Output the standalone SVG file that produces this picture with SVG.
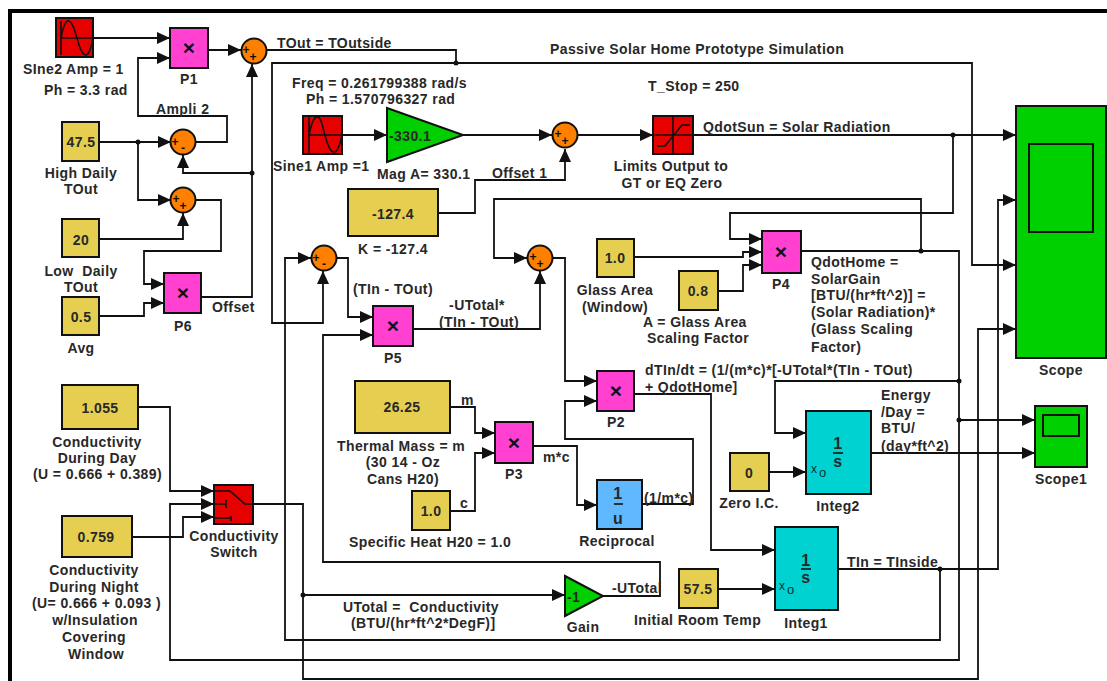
<svg xmlns="http://www.w3.org/2000/svg" width="1107" height="681" viewBox="0 0 1107 681">
<style>
text{font-family:"Liberation Sans",Arial,sans-serif;font-weight:bold;font-size:14px;fill:#282828;letter-spacing:.4px;white-space:pre}
.m{text-anchor:middle}
.b{stroke:#111;stroke-width:2}
.red{fill:#e60000}.mag{fill:#ff40d0}.yel{fill:#e6cf50}.org{fill:#ff8000}.grn{fill:#00d000}.cyn{fill:#00d2d2}.blu{fill:#60b8ff}
.i{fill:none;stroke:#111;stroke-width:1.6}
.s{font-size:12px;letter-spacing:0;fill:#111}
.big{font-size:16px}
.t{font-size:21px;letter-spacing:0;fill:#111}
.x{font-weight:normal;font-size:12px;letter-spacing:0;fill:#103030}
.o{font-size:13px}
#connectors path{fill:none;stroke:#111;stroke-width:1.8}
.a{marker-end:url(#arr)}
.d{fill:#111}
</style>
<defs>
<marker id="arr" markerUnits="userSpaceOnUse" markerWidth="13" markerHeight="12" refX="13" refY="6" orient="auto"><path d="M0,0 L13,6 L0,12 z" fill="#111"/></marker>
</defs>
<rect width="1107" height="681" fill="#fff"/>
<path d="M10,681 V11 H1107" fill="none" stroke="#000" stroke-width="4"/>
<g id="connectors">
<path class="a" d="M93,38 H170"/>
<path class="a" d="M196,142 H227 V116 H138 V58 H170"/>
<path class="a" d="M208,50 H241"/>
<path d="M267,50 H456 V63"/>
<path class="a" d="M456,63 H272 V323 H323 V271"/>
<path class="a" d="M456,63 H972 V265 H1016"/>
<path class="a" d="M201,297 H252 V64"/>
<path class="a" d="M252,173 H183 V155"/>
<path class="a" d="M99,142 H171"/>
<path class="a" d="M138,142 V200 H171"/>
<path class="a" d="M99,239 H183 V213"/>
<path class="a" d="M196,200 H221 V251 H144 V284 H164"/>
<path class="a" d="M99,316 H144 V303 H164"/>
<path class="a" d="M342,135 H387"/>
<path class="a" d="M463,135 H552"/>
<path class="a" d="M578,135 H653"/>
<path class="a" d="M693,135 H1016"/>
<path class="a" d="M953,135 V213 H730 V239 H762"/>
<path class="a" d="M634,257 H743 V252 H762"/>
<path class="a" d="M718,291 H743 V265 H762"/>
<path class="a" d="M801,251 H959 V660 H170 V504 H214"/>
<path class="a" d="M921,251 V199 H494 V258 H527"/>
<path class="a" d="M959,381 H775 V433 H806"/>
<path class="a" d="M959,420 H1035"/>
<path class="a" d="M871,453 H1035"/>
<path class="a" d="M838,569 H998 V200 H1016"/>
<path class="a" d="M940,569 V640 H285 V258 H311"/>
<path class="a" d="M253,504 H303 V679 H978 V329 H1016"/>
<path class="a" d="M303,595 H565"/>
<path class="a" d="M337,258 H348 V317 H373"/>
<path class="a" d="M603,596 H660 V562 H323 V335 H373"/>
<path class="a" d="M413,329 H540 V271"/>
<path class="a" d="M553,258 H565 V381 H597"/>
<path class="a" d="M642,504 H693 V439 H565 V401 H597"/>
<path class="a" d="M634,394 H711 V550 H775"/>
<path class="a" d="M718,589 H775"/>
<path class="a" d="M769,472 H806"/>
<path class="a" d="M450,407 H475 V433 H495"/>
<path class="a" d="M450,511 H475 V453 H495"/>
<path class="a" d="M533,446 H577 V505 H597"/>
<path class="a" d="M438,213 H475 V180 H565 V149"/>
<path class="a" d="M138,407 H170 V491 H214"/>
<path class="a" d="M132,537 H183 V517 H214"/>
<circle class="d" cx="456" cy="63" r="2.5"/><circle class="d" cx="252" cy="173" r="2.5"/><circle class="d" cx="138" cy="142" r="2.5"/><circle class="d" cx="953" cy="135" r="2.5"/><circle class="d" cx="921" cy="251" r="2.5"/><circle class="d" cx="959" cy="381" r="2.5"/><circle class="d" cx="959" cy="420" r="2.5"/><circle class="d" cx="940" cy="569" r="2.5"/><circle class="d" cx="303" cy="595" r="2.5"/>
</g>
<g id="sine2"><rect class="b red" x="56" y="18" width="37" height="39"/><path class="i" d="M61,21 V55 M60,38 H93 M61,38 C64,22 67,20 69,21 C73,22 75,32 77,38 C80,50 83,55 86,55 C89,55 91,48 93,38"/><text x="23" y="74">SIne2 Amp = 1</text><text x="44" y="95">Ph = 3.3 rad</text></g>
<g id="p1"><rect class="b mag" x="170" y="28" width="38" height="40"/><text class="m t" x="189" y="55">×</text><text class="m" x="189" y="84">P1</text></g>
<g id="sum1"><circle class="b org" cx="254" cy="51" r="12.5"/><text class="m s" x="246" y="54">+</text><text class="m s" x="253" y="61">+</text></g>
<g id="sum2"><circle class="b org" cx="183" cy="142" r="12.5"/><text class="m s" x="175" y="146">+</text><text class="m s" x="183" y="152">-</text></g>
<g id="sum3"><circle class="b org" cx="183" cy="200" r="12.5"/><text class="m s" x="176" y="203">+</text><text class="m s" x="183" y="210">+</text></g>
<g id="high"><rect class="b yel" x="62" y="122" width="37" height="39"/><text class="m" x="81" y="147">47.5</text><text class="m" x="81" y="178">High Daily</text><text class="m" x="81" y="194">TOut</text></g>
<g id="low"><rect class="b yel" x="62" y="219" width="37" height="38"/><text class="m" x="81" y="245">20</text><text class="m" x="81" y="276">Low  Daily</text><text class="m" x="81" y="292">TOut</text></g>
<g id="p6"><rect class="b mag" x="164" y="273" width="37" height="40"/><text class="m t" x="183" y="300">×</text><text class="m" x="183" y="331">P6</text></g>
<g id="avg"><rect class="b yel" x="62" y="297" width="37" height="38"/><text class="m" x="81" y="322">0.5</text><text class="m" x="81" y="353">Avg</text></g>
<g id="sine1"><rect class="b red" x="303" y="116" width="39" height="38"/><path class="i" d="M309,117 V153 M308,135 H342 M309,135 C312,120 315,116 318,117 C322,118 323,130 325,135 C328,147 331,152 334,152 C337,152 340,145 342,135"/><text x="273" y="171">Sine1 Amp =1</text></g>
<g id="mag"><path class="b grn" d="M387,108 L463,135 L387,162 z"/><text x="389" y="141">-330.1</text><text x="377" y="179">Mag A= 330.1</text></g>
<g id="sum4"><circle class="b org" cx="565" cy="135" r="12.5"/><text class="m s" x="558" y="138">+</text><text class="m s" x="565" y="145">+</text></g>
<g id="limit"><rect class="b red" x="653" y="116" width="40" height="38"/><path class="i" d="M673,116 V154 M653,135 H693 M657,146 H665 L682,125 H690"/><text class="m" x="671" y="171">Limits Output to</text><text class="m" x="672" y="188">GT or EQ Zero</text></g>
<g id="k"><rect class="b yel" x="348" y="189" width="90" height="47"/><text class="m" x="393" y="219">-127.4</text><text class="m" x="393" y="254">K = -127.4</text></g>
<g id="sum5"><circle class="b org" cx="324" cy="258" r="12.5"/><text class="m s" x="316" y="262">+</text><text class="m s" x="324" y="268">-</text></g>
<g id="sum6"><circle class="b org" cx="540" cy="258" r="12.5"/><text class="m s" x="533" y="261">+</text><text class="m s" x="540" y="268">+</text></g>
<g id="glass"><rect class="b yel" x="597" y="239" width="37" height="38"/><text class="m" x="615" y="263">1.0</text><text class="m" x="615" y="295">Glass Area</text><text class="m" x="615" y="312">(Window)</text></g>
<g id="scale"><rect class="b yel" x="679" y="271" width="39" height="39"/><text class="m" x="698" y="296">0.8</text><text x="643" y="327">A = Glass Area</text><text x="647" y="343">Scaling Factor</text></g>
<g id="p4"><rect class="b mag" x="762" y="231" width="39" height="42"/><text class="m t" x="781" y="259">×</text><text class="m" x="781" y="289">P4</text></g>
<g id="p5"><rect class="b mag" x="373" y="306" width="40" height="40"/><text class="m t" x="393" y="333">×</text><text class="m" x="393" y="363">P5</text></g>
<g id="p2"><rect class="b mag" x="597" y="371" width="37" height="40"/><text class="m t" x="616" y="398">×</text><text class="m" x="616" y="427">P2</text></g>
<g id="p3"><rect class="b mag" x="495" y="422" width="38" height="41"/><text class="m t" x="514" y="450">×</text><text class="m" x="514" y="479">P3</text></g>
<g id="scope"><rect class="b grn" x="1016" y="106" width="90" height="252"/><rect class="b grn" x="1029" y="144" width="64" height="88"/><text class="m" x="1061" y="375">Scope</text></g>
<g id="scope1"><rect class="b grn" x="1035" y="406" width="52" height="61"/><rect class="b grn" x="1043" y="415" width="36" height="21"/><text class="m" x="1061" y="484">Scope1</text></g>
<g id="day"><rect class="b yel" x="62" y="385" width="76" height="44"/><text class="m" x="100" y="413">1.055</text><text class="m" x="97" y="447">Conductivity</text><text class="m" x="97" y="463">During Day</text><text x="33" y="479">(U = 0.666 + 0.389)</text></g>
<g id="night"><rect class="b yel" x="62" y="516" width="70" height="41"/><text class="m" x="96" y="542">0.759</text><text class="m" x="94" y="575">Conductivity</text><text class="m" x="94" y="592">During Night</text><text x="32" y="608">(U= 0.666 + 0.093 )</text><text class="m" x="95" y="625">w/Insulation</text><text class="m" x="94" y="642">Covering</text><text class="m" x="96" y="659">Window</text></g>
<g id="switch"><rect class="b red" x="214" y="485" width="39" height="39"/><path class="i" d="M214,491 H230 L245,504 H253 M214,504 H226 M226,500 V508 M214,518 H231 M231,516 V521"/><text class="m" x="234" y="541">Conductivity</text><text class="m" x="234" y="557">Switch</text></g>
<g id="mass"><rect class="b yel" x="355" y="381" width="95" height="52"/><text class="m" x="402" y="412">26.25</text><text x="337" y="451">Thermal Mass = m</text><text class="m" x="403" y="467">(30 14 - Oz</text><text class="m" x="403" y="484">Cans H20)</text></g>
<g id="heat"><rect class="b yel" x="412" y="491" width="38" height="39"/><text class="m" x="431" y="516">1.0</text><text x="349" y="547">Specific Heat H20 = 1.0</text></g>
<g id="reciprocal"><rect class="b blu" x="597" y="480" width="45" height="49"/><text class="m big" x="618" y="499">1</text><path class="i" d="M614,504 H623"/><text class="m big" x="618" y="524">u</text><text class="m" x="617" y="546">Reciprocal</text></g>
<g id="gain"><path class="b grn" d="M565,576 L603,596 L565,616 z"/><text x="567" y="602">-1</text><text class="m" x="583" y="632">Gain</text></g>
<g id="init"><rect class="b yel" x="679" y="569" width="39" height="39"/><text class="m" x="698" y="594">57.5</text><text x="634" y="625">Initial Room Temp</text></g>
<g id="zero"><rect class="b yel" x="730" y="453" width="39" height="38"/><text class="m" x="749" y="478">0</text><text class="m" x="749" y="508">Zero I.C.</text></g>
<g id="integ2"><rect class="b cyn" x="806" y="411" width="65" height="83"/><text class="m big" x="838" y="449">1</text><path class="i" d="M833,453 H843"/><text class="m big" x="838" y="467">s</text><text class="x" x="811" y="473">x</text><text class="x o" x="819" y="477">o</text><text class="m" x="838" y="511">Integ2</text></g>
<g id="integ1"><rect class="b cyn" x="775" y="527" width="63" height="83"/><text class="m big" x="806" y="566">1</text><path class="i" d="M801,569 H811"/><text class="m big" x="806" y="583">s</text><text class="x" x="779" y="590">x</text><text class="x o" x="787" y="594">o</text><text class="m" x="806" y="628">Integ1</text></g>
<g id="labels">
<text x="550" y="54">Passive Solar Home Prototype Simulation</text>
<text x="277" y="48">TOut = TOutside</text>
<text x="156" y="114">Ampli 2</text>
<text x="212" y="312">Offset</text>
<text x="292" y="88">Freq = 0.261799388 rad/s</text>
<text x="306" y="104">Ph = 1.570796327 rad</text>
<text x="492" y="178">Offset 1</text>
<text x="648" y="91">T_Stop = 250</text>
<text x="703" y="132">QdotSun = Solar Radiation</text>
<text x="353" y="294">(TIn - TOut)</text>
<text class="m" x="477" y="310">-UTotal*</text>
<text class="m" x="479" y="327">(TIn - TOut)</text>
<text x="811" y="267">QdotHome =</text>
<text x="811" y="284">SolarGain</text>
<text x="811" y="300">[BTU/(hr*ft^2)] =</text>
<text x="811" y="317">(Solar Radiation)*</text>
<text x="811" y="334">(Glass Scaling</text>
<text x="811" y="352">Factor)</text>
<text x="645" y="375">dTIn/dt = (1/(m*c)*[-UTotal*(TIn - TOut)</text>
<text x="645" y="392">+ QdotHome]</text>
<text x="881" y="400">Energy</text>
<text x="881" y="417">/Day =</text>
<text x="881" y="433">BTU/</text>
<text x="881" y="451">(day*ft^2)</text>
<text x="847" y="567">TIn = TInside</text>
<text x="612" y="593">-UTotal</text>
<text x="343" y="612">UTotal =  Conductivity</text>
<text x="351" y="628">(BTU/(hr*ft^2*DegF)]</text>
<text x="644" y="503">(1/m*c)</text>
<text x="543" y="462">m*c</text>
<text x="461" y="405">m</text>
<text x="460" y="508">c</text>
</g>
</svg>
